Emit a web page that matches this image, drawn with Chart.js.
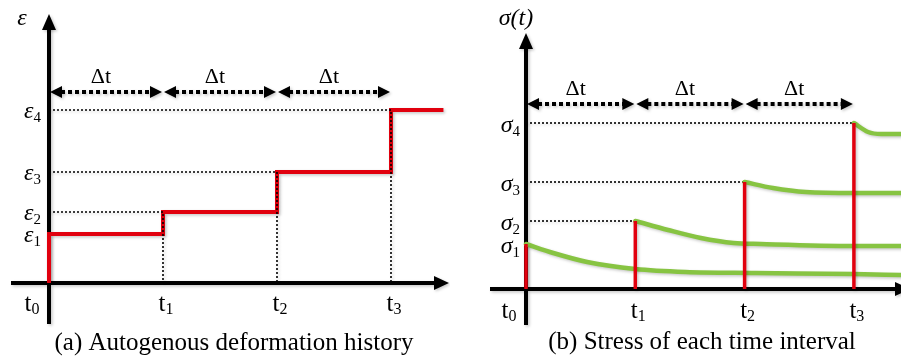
<!DOCTYPE html>
<html>
<head>
<title>Autogenous deformation and stress history</title>
<script src="https://cdn.jsdelivr.net/npm/chart.js"></script>
<style>
    body { margin: 0; background: #fff; }
    #wrap { position: relative; width: 901px; height: 356px; overflow: hidden; }
    #wrap canvas { position: absolute; top: 0; }
</style>
</head>
<body>
<div id="wrap">
    <canvas id="deformChart" width="450" height="356" style="left:0"></canvas>
    <canvas id="stressChart" width="451" height="356" style="left:450px"></canvas>
</div>

<script>
// time marks t0..t3, one Δt apart
const timeMarks = [0, 1, 2, 3];
const timeSubs = ['0', '1', '2', '3'];

// (a) autogenous strain held during each interval, ε1..ε4
const strainLevels = [0.98, 1.42, 2.22, 3.46];
const strainSubs = ['1', '2', '3', '4'];
const strainEnd = 3.46;

// (b) stress jump at each time mark, σ1..σ4
const stressPeaks = [0.9, 1.36, 2.14, 3.32];
const stressSubs = ['1', '2', '3', '4'];

// (b) relaxation of each stress increment after it is applied
const relaxTimes = [
    [0, 0.25, 0.56, 1, 1.46, 2.1, 3, 3.43],
    [1, 1.3, 1.6, 1.9, 2.15, 3, 3.43],
    [2, 2.26, 2.56, 3, 3.43],
    [3, 3.13, 3.25, 3.43]
];
const relaxStress = [
    [0.9, 0.72, 0.54, 0.4, 0.34, 0.32, 0.3, 0.28],
    [1.36, 1.18, 1.02, 0.92, 0.9, 0.86, 0.86],
    [2.14, 2.02, 1.94, 1.92, 1.92],
    [3.32, 3.14, 3.1, 3.1]
];

const RED = '#e1000e';
const GREEN = '#87c442';
const SERIF = '"Liberation Serif", "Times New Roman", serif';

function softShadow(ctx) {
    ctx.shadowColor = 'rgba(0,0,0,0.22)';
    ctx.shadowBlur = 3;
    ctx.shadowOffsetX = 1.5;
    ctx.shadowOffsetY = 1.5;
}

function arrowHead(ctx, x, y, dx, dy, len, half) {
    ctx.beginPath();
    ctx.moveTo(x, y);
    ctx.lineTo(x - dx * len - dy * half, y - dy * len + dx * half);
    ctx.lineTo(x - dx * len + dy * half, y - dy * len - dx * half);
    ctx.closePath();
    ctx.fill();
}

// symbol with a subscript, anchored left/right/center at (x, y baseline)
function subText(ctx, main, sub, x, y, align, mainFont, subFont, drop) {
    ctx.font = mainFont;
    const w1 = ctx.measureText(main).width;
    ctx.font = subFont;
    const w2 = ctx.measureText(sub).width;
    let left = x;
    if (align === 'right') left = x - w1 - w2;
    if (align === 'center') left = x - (w1 + w2) / 2;
    ctx.textAlign = 'left';
    ctx.font = mainFont;
    ctx.fillText(main, left, y);
    ctx.font = subFont;
    ctx.fillText(sub, left + w1, y + drop);
}

const sketch = {
    id: 'sketch',
    beforeDatasetsDraw(chart, args, o) {
        const { ctx, chartArea: area, scales: { x, y } } = chart;
        const ox = x.getPixelForValue(0), oy = y.getPixelForValue(0);
        ctx.save();
        softShadow(ctx);
        ctx.strokeStyle = ctx.fillStyle = '#000';
        ctx.lineWidth = 4;
        ctx.beginPath();
        ctx.moveTo(ox, oy + o.axisDrop);
        ctx.lineTo(ox, area.top + 12);
        ctx.moveTo(ox - o.axisLead, oy);
        ctx.lineTo(area.right + o.tipPad - 12, oy);
        ctx.stroke();
        arrowHead(ctx, ox, area.top, 0, -1, 16, 7);
        arrowHead(ctx, area.right + o.tipPad, oy, 1, 0, 15, 7);
        ctx.restore();
        // lines get the same light shadow; undone after the datasets
        ctx.save();
        softShadow(ctx);
    },
    afterDatasetsDraw(chart) {
        chart.ctx.restore();
    },
    afterDraw(chart, args, o) {
        const { ctx, scales: { x, y } } = chart;
        const ox = x.getPixelForValue(0), oy = y.getPixelForValue(0);
        ctx.save();
        ctx.fillStyle = ctx.strokeStyle = '#000';

        // Δt spans between consecutive time marks
        const ya = y.getPixelForValue(o.spanLevel);
        for (let i = 0; i < timeMarks.length - 1; i++) {
            const xa = x.getPixelForValue(timeMarks[i]);
            const xb = x.getPixelForValue(timeMarks[i + 1]);
            ctx.save();
            softShadow(ctx);
            ctx.lineWidth = 4;
            ctx.setLineDash([4, 3]);
            ctx.beginPath();
            ctx.moveTo(xa + 12, ya);
            ctx.lineTo(xb - 12, ya);
            ctx.stroke();
            ctx.setLineDash([]);
            arrowHead(ctx, xa + 1, ya, -1, 0, 12, 6);
            arrowHead(ctx, xb - 1, ya, 1, 0, 12, 6);
            ctx.restore();
            ctx.font = '22px ' + SERIF;
            ctx.textAlign = 'center';
            ctx.fillText('\u0394t', (xa + xb) / 2 - 5, ya - 9);
        }

        // level labels on the vertical axis
        const mathFont = 'italic 24px ' + SERIF;
        const mathSub = '15px ' + SERIF;
        o.levels.forEach((v, i) => {
            subText(ctx, o.symbol, o.subs[i], ox - o.levelGap, y.getPixelForValue(v) + o.levelDrop,
                'right', mathFont, mathSub, 4);
        });

        // time labels under the time axis
        timeMarks.forEach((t, i) => {
            const cx = i === 0 ? ox - 17 : x.getPixelForValue(t) + 3;
            subText(ctx, 't', timeSubs[i], cx, oy + o.timeDrop, 'center',
                '25px ' + SERIF, '16px ' + SERIF, 3);
        });

        // axis name
        ctx.font = mathFont;
        ctx.textAlign = 'center';
        ctx.fillText(o.name, ox + o.nameDx, o.nameY);

        // caption
        ctx.font = '25px ' + SERIF;
        ctx.fillText(o.caption, o.captionX, o.captionY);
        ctx.restore();
    }
};

function panelOptions(pad, xMax, yMax, sketchOpts) {
    return {
        responsive: false,
        animation: false,
        layout: { padding: pad },
        scales: {
            x: { type: 'linear', min: 0, max: xMax, display: false },
            y: { type: 'linear', min: 0, max: yMax, display: false }
        },
        plugins: {
            legend: { display: false },
            tooltip: { enabled: false },
            sketch: sketchOpts
        },
        elements: { point: { radius: 0 }, line: { tension: 0 } }
    };
}

// (a) strain steps: rises at every time mark and holds for one Δt
const stepPath = [{ x: timeMarks[0], y: 0 }];
strainLevels.forEach((e, i) => {
    stepPath.push({ x: timeMarks[i], y: e });
    stepPath.push({ x: i + 1 < timeMarks.length ? timeMarks[i + 1] : strainEnd, y: e });
});

const dotted = { borderColor: '#000', borderWidth: 1.6, borderDash: [2, 2], clip: false };

const strainGuides = strainLevels.slice(1).map((e, i) => Object.assign({
    data: [{ x: 0, y: e }, { x: timeMarks[i + 1], y: e }, { x: timeMarks[i + 1], y: 0 }]
}, dotted));

new Chart('deformChart', {
    type: 'line',
    data: {
        datasets: [
            ...strainGuides,
            { data: stepPath, borderColor: RED, borderWidth: 4, borderJoinStyle: 'miter', clip: false }
        ]
    },
    options: panelOptions({ left: 49, right: 0, top: 14, bottom: 73 }, 401 / 114, 269 / 50, {
        axisDrop: 41, axisLead: 38, tipPad: -1,
        spanLevel: 3.82,
        symbol: '\u03b5', levels: strainLevels, subs: strainSubs, levelGap: 8, levelDrop: 8,
        timeDrop: 28,
        name: '\u03b5', nameDx: -27, nameY: 25,
        caption: '(a) Autogenous deformation history', captionX: 234, captionY: 350
    }),
    plugins: [sketch]
});

// (b) stress jumps, relaxation curves and guide lines
const stressBars = stressPeaks.map((s, i) => ({
    data: [{ x: timeMarks[i], y: 0 }, { x: timeMarks[i], y: s }],
    borderColor: RED, borderWidth: 3.5, clip: false
}));

const relaxCurves = relaxTimes.map((ts, i) => ({
    data: ts.map((t, j) => ({ x: t, y: relaxStress[i][j] })),
    borderColor: GREEN, borderWidth: 4.5, borderCapStyle: 'round',
    cubicInterpolationMode: 'monotone', clip: false
}));

const stressGuides = stressPeaks.slice(1).map((s, i) => Object.assign({
    data: [{ x: 0, y: s }, { x: timeMarks[i + 1], y: s }]
}, dotted));

new Chart('stressChart', {
    type: 'line',
    data: { datasets: [...stressBars, ...relaxCurves, ...stressGuides] },
    options: panelOptions({ left: 76, right: 0, top: 33, bottom: 67 }, 375 / 109.3, 256 / 50, {
        axisDrop: 36, axisLead: 36, tipPad: 9,
        spanLevel: 3.7,
        symbol: '\u03c3', levels: stressPeaks, subs: stressSubs, levelGap: 6, levelDrop: 9,
        timeDrop: 29,
        name: '\u03c3(t)', nameDx: -10, nameY: 25,
        caption: '(b) Stress of each time interval', captionX: 252, captionY: 349
    }),
    plugins: [sketch]
});
</script>
</body>
</html>
